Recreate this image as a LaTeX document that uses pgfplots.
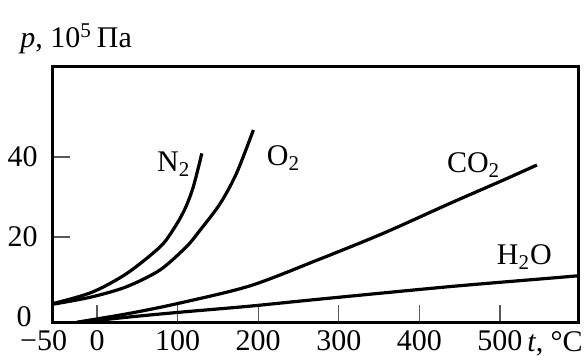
\documentclass[border=0pt]{standalone}
\usepackage{fontspec}
\setmainfont{Liberation Serif}
\usepackage{pgfplots}
\pgfplotsset{compat=1.18}
\begin{document}
\begin{tikzpicture}
\begin{axis}[
  scale only axis,
  width=263pt, height=128pt,
  xmin=-56, xmax=597,
  ymin=-1.5, ymax=62.5,
  axis line style={line width=1.5pt},
  xtick={0,100,200,300,400,500},
  xticklabels={0,100,200,300,400,500},
  ytick={20,40},
  yticklabels={20,40},
  extra x ticks={-56},
  extra x tick labels={\llap{−}50},
  extra y ticks={0},
  extra y tick labels={0},
  extra y tick style={major tick length=0pt, yticklabel style={xshift=-3pt,yshift=0pt}},
  extra x tick style={major tick length=0pt},
  xtick pos=bottom, ytick pos=left,
  tick align=inside,
  major tick length=9pt,
  tick style={line width=0.7pt, black!65},
  ticklabel style={font=\fontsize{15}{17}\selectfont, inner sep=0pt},
  xticklabel style={yshift=-3.8pt},
  yticklabel style={xshift=-7pt},
  /pgf/number format/assume math mode=true,
  clip mode=individual,
]
% N2
\addplot[line width=1.6pt, smooth, tension=0.5] coordinates {
 (-56,3.4) (-46,3.8) (-5,6.3) (37,10.9) (78,17.5) (95,22) (109,27) (119.5,32.6) (130,40.9)};
% O2
\addplot[line width=1.6pt, smooth, tension=0.5] coordinates {
 (-56,3.2) (-46,3.5) (-5,5.1) (37,7.6) (78,11.75) (111,17.6) (128,21.75) (152.6,28.3) (173,35.9) (194,46.75)};
% CO2
\addplot[line width=1.6pt, smooth, tension=0.5] coordinates {
 (-25,-1.3) (40,0.9) (103,3.5) (190,7.8) (273,14.2) (355,20.9) (438,28.4) (504,34.2) (546,38)};
% H2O
\addplot[line width=1.6pt, smooth, tension=0.5] coordinates {
 (-20,-1.3) (40,0) (103,1.2) (189,2.7) (273,4.4) (438,7.6) (562,9.7) (597,10.3)};
\node[anchor=base west, font=\fontsize{15}{17}\selectfont] at (axis cs:65.8,36.25) {N\textsubscript{2}};
\node[anchor=base west, font=\fontsize{15}{17}\selectfont] at (axis cs:202,37.75) {O\textsubscript{2}};
\node[anchor=base west, font=\fontsize{15}{17}\selectfont] at (axis cs:425.6,36) {CO\textsubscript{2}};
\node[anchor=base west, font=\fontsize{15}{17}\selectfont] at (axis cs:487.6,13) {H\textsubscript{2}O};
\node[anchor=base west, inner sep=0pt, font=\fontsize{15}{17}\selectfont, xshift=-16pt, yshift=9.5pt] at (rel axis cs:0,1) {\textit{p}, 10\textsuperscript{5}\,Па};
\node[anchor=base west, inner sep=0pt, font=\fontsize{15}{17}\selectfont, xshift=-25.5pt, yshift=-14.5pt] at (rel axis cs:1,0) {\textit{t}, °C};
\end{axis}
\pgfresetboundingbox
\path ([shift={(-26pt,-16.5pt)}]current axis.south west) rectangle ([shift={(4pt,33.5pt)}]current axis.north east);
\end{tikzpicture}
\end{document}
